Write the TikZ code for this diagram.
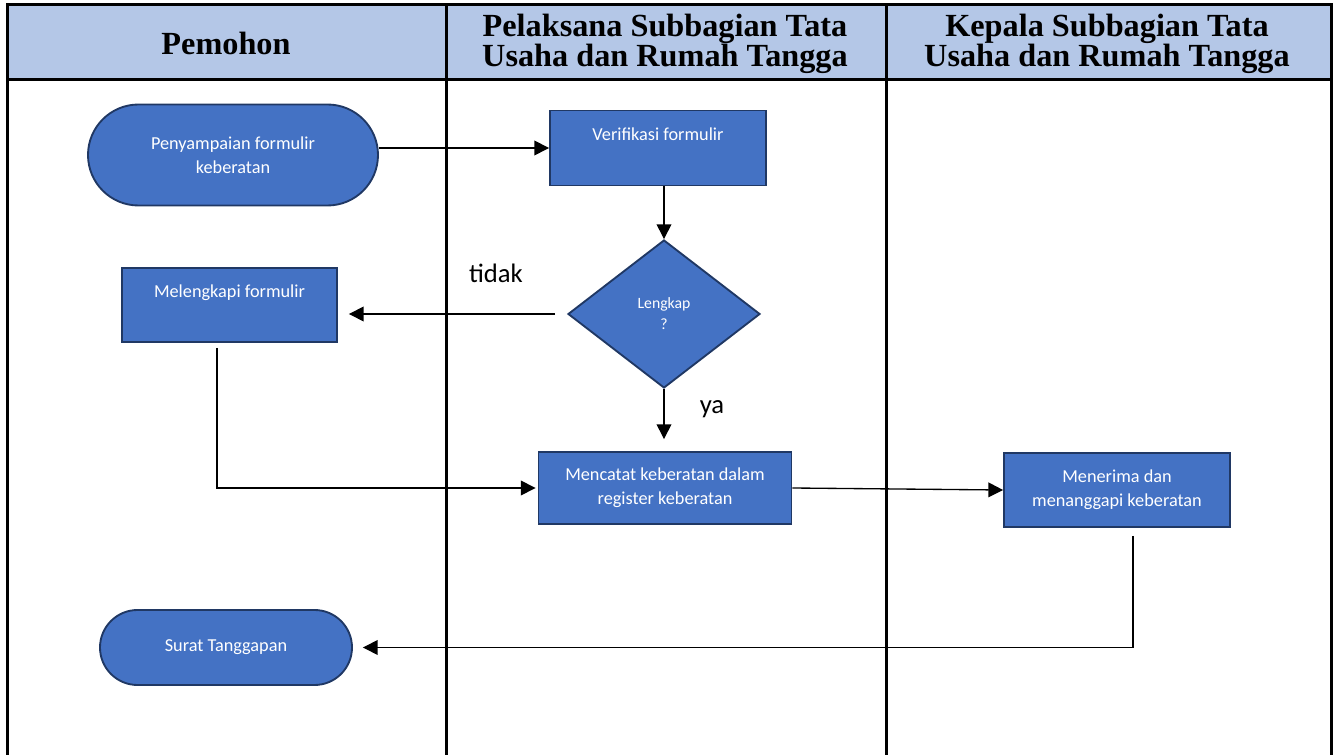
\documentclass[tikz,border=0pt]{standalone}
\usepackage{fontspec}
\setmainfont{Carlito}
\newfontfamily\hdrfont{Liberation Serif}
\definecolor{laneBg}{HTML}{B4C7E7}
\definecolor{stepFill}{HTML}{4472C4}
\definecolor{stepFr}{HTML}{203864}
\usetikzlibrary{arrows.meta,shapes.geometric,shapes.misc}
\newcommand{\px}{0.75pt}
\tikzset{>={Triangle[length=11pt,width=11pt]},
  lane/.style={line width=2.25pt,black},
  hdr/.style={font=\hdrfont\bfseries\fontsize{24.2}{23}\selectfont,align=center,text=black},
  stepbox/.style={draw=stepFr,line width=1.4pt,fill=stepFill,text=white,align=center,
    inner sep=0pt,font=\fontsize{13.7}{18}\selectfont},
  termbox/.style={stepbox,rounded rectangle},
  decbox/.style={stepbox,diamond,font=\fontsize{11.8}{15.75}\selectfont},
  flow/.style={->,line width=1pt,black},
  lbl/.style={font=\fontsize{20}{24}\selectfont,text=black}}

\begin{document}
\begin{tikzpicture}[x=\px,y=-\px]
  \useasboundingbox (0,0) rectangle (1336,755);
  % swimlane table
  \fill[laneBg] (7,5) rectangle (1331,80);
  \draw[lane] (7,755) -- (7,5) -- (1331,5) -- (1331,755);
  \draw[lane] (7,80) -- (1331,80);
  \foreach \xcol in {446,886} \draw[lane] (\xcol,5) -- (\xcol,755);
  \node[hdr] (hApplicant) at (226,43) {Pemohon};
  \node[hdr] (hStaff) at (665,44) {Pelaksana Subbagian Tata\\Usaha dan Rumah Tangga};
  \node[hdr] (hHead) at (1107,44) {Kepala Subbagian Tata\\Usaha dan Rumah Tangga};
  % steps
  \node[termbox,minimum width=290*\px,minimum height=101*\px] (submit) at (233,155) {Penyampaian formulir\\keberatan};
  \node[stepbox,minimum width=216*\px,minimum height=75*\px] (verify) at (658,148) {Verifikasi formulir\\[-3pt]\strut};
  \node[decbox,minimum width=192*\px,minimum height=148*\px] (dec) at (664,314) {Lengkap\\?};
  \node[stepbox,minimum width=215*\px,minimum height=74*\px] (fill) at (229.5,305) {Melengkapi formulir\\[-3pt]\strut};
  \node[stepbox,minimum width=253*\px,minimum height=72*\px] (record) at (665,488) {Mencatat keberatan dalam\\register keberatan};
  \node[stepbox,minimum width=226*\px,minimum height=74*\px] (reply) at (1117,490) {Menerima dan\\menanggapi keberatan};
  \node[termbox,minimum width=252*\px,minimum height=75*\px] (letter) at (226,647.5) {Surat Tanggapan};
  \node[lbl] (lblNo) at (496,273) {tidak};
  \node[lbl] (lblYes) at (712,409) {ya};
  % connectors
  \draw[flow] (submit.east |- verify.west) -- (verify.west);
  \draw[flow] (dec.north |- verify.south) -- (dec.north);
  \draw[flow,shorten <=12*\px,shorten >=11*\px] (dec.west) -- (dec.west -| fill.east);
  \draw[flow,shorten >=12*\px] (dec.south) -- (dec.south |- record.north);
  \draw[flow,shorten >=2*\px] ([xshift=-12.5*\px,yshift=-5*\px]fill.south) |- (record.west);
  \draw[flow] (record.east) -- (reply.west);
  \draw[flow,shorten >=10*\px] ([xshift=16*\px,yshift=-8*\px]reply.south) |- (letter.east);
\end{tikzpicture}
\end{document}
